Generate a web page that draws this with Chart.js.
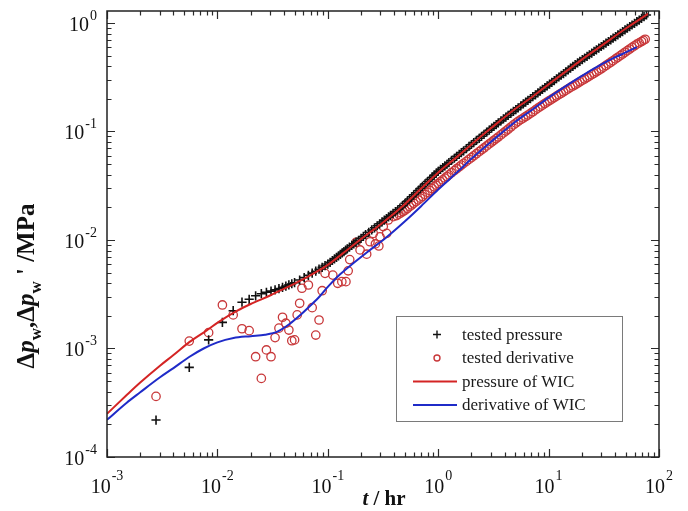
<!DOCTYPE html>
<html>
<head>
<meta charset="utf-8">
<script src="https://cdn.jsdelivr.net/npm/chart.js@4.4.1/dist/chart.umd.min.js"></script>
<style>
  body { margin: 0; background: #fff; }
  #wrap { width: 688px; height: 511px; position: relative; }
</style>
</head>
<body>
<div id="wrap"><canvas id="chart"></canvas></div>
<script>
// tested pressure (+), hr / MPa
const testedPressureTime = [0.00278, 0.00556, 0.00833, 0.0111, 0.0139, 0.0167, 0.0194, 0.0222, 0.025, 0.0278, 0.0306, 0.0333, 0.0361, 0.0389, 0.0417, 0.0444, 0.0472, 0.05,
  0.0556, 0.0611, 0.0667, 0.0722, 0.0778, 0.0833, 0.0889, 0.0944, 0.1,
  0.105, 0.11, 0.115, 0.12, 0.125, 0.13, 0.135, 0.14, 0.145, 0.15, 0.157, 0.165, 0.172, 0.18, 0.19, 0.2, 0.21, 0.22, 0.235, 0.25, 0.265, 0.28, 0.295, 0.31, 0.325, 0.34, 0.355, 0.37, 0.39, 0.41, 0.43, 0.45,
  0.475, 0.5, 0.525, 0.55, 0.575, 0.6, 0.63, 0.66, 0.69, 0.72, 0.76, 0.8, 0.84, 0.88, 0.92, 0.96, 1.0,
  1.05, 1.1, 1.15, 1.2, 1.25, 1.32, 1.4, 1.47, 1.55, 1.62, 1.7, 1.8, 1.9, 2.0, 2.1, 2.22, 2.35, 2.47, 2.6, 2.75, 2.9, 3.05, 3.2,
  3.35, 3.5, 3.7, 3.9, 4.1, 4.3, 4.55, 4.8, 5.05, 5.3, 5.6, 5.9, 6.2, 6.5, 6.85, 7.2, 7.6, 8.0, 8.4, 8.8, 9.25, 9.7, 10.2, 10.7, 11.25, 11.8, 12.4, 13, 13.65, 14.3, 15.05, 15.8,
  16.6, 17.4, 18.3, 19.2, 20.2, 21.2, 22.3, 23.4, 24.6, 25.8, 27.1, 28.5, 30, 31.5, 33.1, 34.8, 36.6, 38.4, 40.4, 42.4, 44.6, 46.8, 49.2, 51.7, 54.3, 57, 60, 63, 66.2, 69.5, 73.2, 77]
const testedPressure = [2.19e-4, 6.7e-4, 1.2e-3, 1.74e-3, 2.23e-3, 2.67e-3, 2.84e-3, 3.06e-3, 3.2e-3, 3.3e-3, 3.38e-3, 3.47e-3, 3.56e-3, 3.66e-3, 3.76e-3, 3.86e-3, 3.95e-3, 4.04e-3,
  4.28e-3, 4.5e-3, 4.73e-3, 4.95e-3, 5.16e-3, 5.38e-3, 5.6e-3, 5.8e-3, 6.0e-3,
  6.23e-3, 6.47e-3, 6.7e-3, 6.93e-3, 7.15e-3, 7.38e-3, 7.6e-3, 7.83e-3, 8.05e-3, 8.27e-3, 8.58e-3, 8.91e-3, 9.23e-3, 9.55e-3, 9.95e-3, 0.01037, 0.01078, 0.01119, 0.01178, 0.01238, 0.01295, 0.01353, 0.0141, 0.01466, 0.01522, 0.01578, 0.01632, 0.01686, 0.01756, 0.01829, 0.01898, 0.0197,
  0.0207, 0.0218, 0.0228, 0.0239, 0.025, 0.0261, 0.0273, 0.0286, 0.0299, 0.0312, 0.0329, 0.0346, 0.0362, 0.0379, 0.0396, 0.0413, 0.043,
  0.0448, 0.0465, 0.0482, 0.0499, 0.0516, 0.0541, 0.0567, 0.0591, 0.0616, 0.064, 0.0664, 0.0695, 0.0728, 0.0759, 0.079, 0.0827, 0.0866, 0.0903, 0.0941, 0.0985, 0.103, 0.1073, 0.1116,
  0.1158, 0.12, 0.1252, 0.1305, 0.1355, 0.1407, 0.1469, 0.1532, 0.1592, 0.1653, 0.1723, 0.1795, 0.1864, 0.1934, 0.2012, 0.2093, 0.218, 0.227, 0.2355, 0.2442, 0.2536, 0.2633, 0.2734, 0.2839, 0.2949, 0.3062, 0.3178, 0.3299, 0.3422, 0.355, 0.3689, 0.3833,
  0.398, 0.4136, 0.4283, 0.4434, 0.4593, 0.4756, 0.4925, 0.51, 0.528, 0.5466, 0.5662, 0.5865, 0.6076, 0.6295, 0.6522, 0.6756, 0.6996, 0.7244, 0.7503, 0.777, 0.8046, 0.8332, 0.8632, 0.8942, 0.9255, 0.958, 0.9923, 1.028, 1.0647, 1.102, 1.143, 1.185]

// tested derivative (o)
const testedDerivTime = [0.00278, 0.00556, 0.00833, 0.0111, 0.0139, 0.0167, 0.0194, 0.0222, 0.025, 0.0278, 0.0306, 0.0333, 0.0361, 0.0389, 0.0417, 0.0444, 0.0472, 0.05,
  0.0528, 0.0556, 0.0583, 0.0667, 0.0722, 0.0778, 0.0833, 0.0889, 0.0944,
  0.111, 0.123, 0.134, 0.146, 0.153, 0.158,
  0.18, 0.196, 0.225, 0.241, 0.258, 0.27, 0.29, 0.297, 0.318, 0.341, 0.353, 0.392,
  0.42, 0.44, 0.46, 0.48, 0.5, 0.525, 0.55, 0.575, 0.6, 0.63, 0.66, 0.69, 0.72, 0.76, 0.8, 0.84, 0.88, 0.92, 0.96, 1.0,
  1.05, 1.1, 1.15, 1.2, 1.25, 1.32, 1.4, 1.47, 1.55, 1.62, 1.7, 1.8, 1.9, 2.0, 2.1, 2.22, 2.35, 2.47, 2.6, 2.75, 2.9, 3.05, 3.2,
  3.35, 3.5, 3.7, 3.9, 4.1, 4.3, 4.55, 4.8, 5.05, 5.3, 5.6, 5.9, 6.2, 6.5, 6.85, 7.2, 7.6, 8, 8.4, 8.8, 9.25, 9.7, 10.2, 10.7, 11.25, 11.8, 12.4, 13, 13.65, 14.3, 15.05, 15.8,
  16.6, 17.4, 18.3, 19.2, 20.2, 21.2, 22.3, 23.4, 24.6, 25.8, 27.1, 28.5, 30, 31.5, 33.1, 34.8, 36.6, 38.4, 40.4, 42.4, 44.6, 46.8, 49.2, 51.7, 54.3, 57, 60, 63, 66.2, 69.5, 72.2, 75]
const testedDeriv = [3.62e-4, 1.17e-3, 1.40e-3, 2.52e-3, 2.04e-3, 1.52e-3, 1.46e-3, 8.4e-4, 5.3e-4, 9.7e-4, 8.4e-4, 1.26e-3, 1.54e-3, 1.94e-3, 1.71e-3, 1.48e-3, 1.18e-3, 1.2e-3,
  2.04e-3, 2.61e-3, 3.59e-3, 3.85e-3, 2.38e-3, 1.33e-3, 1.83e-3, 3.41e-3, 4.93e-3,
  4.75e-3, 3.99e-3, 4.13e-3, 4.13e-3, 5.2e-3, 6.6e-3,
  9.5e-3, 8.1e-3, 7.4e-3, 9.64e-3, 0.0115, 9.2e-3, 8.8e-3, 0.0107, 0.0133, 0.0115, 0.0153, 0.0164,
  0.0168, 0.0173, 0.0178, 0.0183, 0.0188, 0.0195, 0.0203, 0.021, 0.0218, 0.0226, 0.0234, 0.0243, 0.0252, 0.0263, 0.0275, 0.0286, 0.0298, 0.0309, 0.032, 0.0332,
  0.0345, 0.0358, 0.0372, 0.0385, 0.0398, 0.0417, 0.0436, 0.0454, 0.0472, 0.049, 0.0508, 0.053, 0.0553, 0.0575, 0.0598, 0.0624, 0.0652, 0.0678, 0.0705, 0.0736, 0.0768, 0.0799, 0.083,
  0.086, 0.089, 0.093, 0.097, 0.101, 0.105, 0.11, 0.115, 0.1195, 0.124, 0.1285, 0.133, 0.1375, 0.142, 0.147, 0.152, 0.158, 0.164, 0.1695, 0.175, 0.181, 0.187, 0.193, 0.199, 0.2055, 0.212, 0.2185, 0.225, 0.232, 0.239, 0.247, 0.255,
  0.2625, 0.27, 0.2785, 0.287, 0.296, 0.305, 0.3145, 0.324, 0.334, 0.344, 0.355, 0.366, 0.379, 0.392, 0.406, 0.42, 0.435, 0.45, 0.4665, 0.483, 0.5005, 0.518, 0.537, 0.556, 0.576, 0.596, 0.617, 0.638, 0.6565, 0.675, 0.6915, 0.708]

// WIC model curves
const wicTime = [0.001, 0.0015, 0.002, 0.003, 0.004, 0.0056, 0.008, 0.0102, 0.015, 0.02, 0.03, 0.04, 0.056, 0.07, 0.1, 0.15, 0.2, 0.3, 0.45, 0.7, 1, 1.5, 2, 3, 5, 7, 10, 15, 20, 30, 50, 80]
const wicPressure = [2.5e-4, 3.7e-4, 4.85e-4, 6.9e-4, 8.7e-4, 1.15e-3, 1.47e-3, 1.75e-3, 2.22e-3, 2.57e-3, 3.08e-3, 3.55e-3, 4.2e-3, 4.75e-3, 5.9e-3, 8.1e-3, 1.02e-2, 1.39e-2, 1.95e-2, 0.0298, 0.042, 0.059, 0.076, 0.107, 0.162, 0.206, 0.272, 0.37, 0.46, 0.615, 0.89, 1.22]
const wicDerivTime = [0.001, 0.0015, 0.002, 0.003, 0.004, 0.0055, 0.0075, 0.01, 0.014, 0.02, 0.027, 0.035, 0.045, 0.056, 0.07, 0.085, 0.1, 0.13, 0.17, 0.23, 0.34, 0.5, 0.7, 1, 1.5, 2, 3, 5, 7, 10, 15, 20, 30, 45, 63]
const wicDeriv = [2.2e-4, 3.15e-4, 3.95e-4, 5.4e-4, 6.6e-4, 8.3e-4, 1.0e-3, 1.14e-3, 1.25e-3, 1.3e-3, 1.34e-3, 1.43e-3, 1.68e-3, 2.02e-3, 2.5e-3, 3.05e-3, 3.7e-3, 4.85e-3, 6.1e-3, 7.8e-3, 0.0106, 0.0149, 0.0205, 0.0292, 0.0425, 0.056, 0.08, 0.123, 0.157, 0.205, 0.27, 0.325, 0.415, 0.51, 0.6]

// axes
const xDecades = [1e-3, 1e-2, 1e-1, 1, 10, 100]
const xTickExps = ["-3", "-2", "-1", "0", "1", "2"]
const yDecades = [1e-4, 1e-3, 1e-2, 1e-1, 1]
const yTickExps = ["-4", "-3", "-2", "-1", "0"]
const legendLabels = ["tested pressure", "tested derivative", "pressure of WIC", "derivative of WIC"]

const SERIF = "'Liberation Serif', 'Times New Roman', serif"
const RED = "#d42424"
const BLUE = "#1f2bc8"
const CIRCLE = "#c8383a"

const pts = (xs, ys) => xs.map((x, i) => ({ x: x, y: ys[i] }))

function drawRich(ctx, parts, size) {
  // parts drawn left to right, centred on 0, baseline 0
  const fontOf = p => `${p.italic ? "italic " : ""}bold ${p.sub ? Math.round(size * 0.68) : size}px ${SERIF}`
  const widths = parts.map(p => {
    ctx.font = fontOf(p)
    return ctx.measureText(p.text).width
  })
  const total = widths.reduce((a, b) => a + b, 0)
  let x = -total / 2
  parts.forEach((p, i) => {
    ctx.font = fontOf(p)
    ctx.fillText(p.text, x, p.sub ? size * 0.28 : 0)
    x += widths[i]
  })
}

const framePlugin = {
  id: "frame",
  beforeDraw(chart) {
    const ctx = chart.ctx
    ctx.save()
    ctx.fillStyle = "#fff"
    ctx.fillRect(0, 0, chart.width, chart.height)
    ctx.restore()
  },
  afterDraw(chart) {
    const { ctx, chartArea: a, scales: { x, y } } = chart
    ctx.save()
    ctx.strokeStyle = "#2a2a2a"
    ctx.lineWidth = 1.2

    // x ticks, bottom and top, pointing inward
    xDecades.forEach((d, i) => {
      for (let m = 1; m <= 9; m++) {
        if (i === xDecades.length - 1 && m > 1) break
        const px = Math.round(x.getPixelForValue(d * m)) + 0.5
        const len = m === 1 ? 8 : 4.5
        ctx.beginPath()
        ctx.moveTo(px, a.bottom); ctx.lineTo(px, a.bottom - len)
        ctx.moveTo(px, a.top); ctx.lineTo(px, a.top + len)
        ctx.stroke()
      }
    })
    // y ticks, left and right
    yDecades.forEach(d => {
      for (let m = 1; m <= 9; m++) {
        const v = d * m
        if (v > y.max) break
        const py = Math.round(y.getPixelForValue(v)) + 0.5
        const len = m === 1 ? 8 : 4.5
        ctx.beginPath()
        ctx.moveTo(a.left, py); ctx.lineTo(a.left + len, py)
        ctx.moveTo(a.right, py); ctx.lineTo(a.right - len, py)
        ctx.stroke()
      }
    })

    // frame
    ctx.lineWidth = 1.5
    ctx.strokeStyle = "#222"
    ctx.strokeRect(a.left, a.top, a.right - a.left, a.bottom - a.top)

    // tick labels 10^n
    ctx.fillStyle = "#111"
    ctx.textBaseline = "alphabetic"
    ctx.textAlign = "left"
    const big = `20px ${SERIF}`, small = `14px ${SERIF}`
    xDecades.forEach((d, i) => {
      const px = x.getPixelForValue(d)
      ctx.font = big
      const w10 = ctx.measureText("10").width
      ctx.font = small
      const we = ctx.measureText(xTickExps[i]).width
      const x0 = px - (w10 + 1 + we) / 2
      ctx.font = big
      ctx.fillText("10", x0, 493)
      ctx.font = small
      ctx.fillText(xTickExps[i], x0 + w10 + 1, 480)
    })
    yDecades.forEach((d, i) => {
      const py = y.getPixelForValue(d)
      ctx.font = small
      const we = ctx.measureText(yTickExps[i]).width
      ctx.font = big
      const w10 = ctx.measureText("10").width
      const x0 = 97 - we - 1 - w10
      ctx.fillText("10", x0, py + 8)
      ctx.font = small
      ctx.fillText(yTickExps[i], x0 + w10 + 1, py - 3)
    })

    // axis titles
    ctx.save()
    ctx.translate(384, 505)
    drawRich(ctx, [{ text: "t", italic: true }, { text: " / hr" }], 21)
    ctx.restore()

    ctx.save()
    ctx.translate(34, 286)
    ctx.rotate(-Math.PI / 2)
    drawRich(ctx, [
      { text: "Δ" }, { text: "p", italic: true }, { text: "w", sub: true }, { text: "," },
      { text: "Δ" }, { text: "p", italic: true }, { text: "w", sub: true }, { text: " ' /MPa" }
    ], 25)
    ctx.restore()

    // legend box
    const lx = 396, ly = 316, lw = 226, lh = 105
    ctx.fillStyle = "#fff"
    ctx.fillRect(lx, ly, lw, lh)
    ctx.strokeStyle = "#7a7a7a"
    ctx.lineWidth = 1
    ctx.strokeRect(lx + 0.5, ly + 0.5, lw, lh)
    const rows = [334.5, 358, 381.5, 405]
    ctx.font = `17px ${SERIF}`
    ctx.fillStyle = "#1a1a1a"
    ctx.textBaseline = "middle"
    legendLabels.forEach((lab, i) => ctx.fillText(lab, 462, rows[i] + 1))
    // legend markers
    ctx.strokeStyle = "#111"
    ctx.lineWidth = 1.4
    ctx.beginPath()
    ctx.moveTo(433, rows[0]); ctx.lineTo(441, rows[0])
    ctx.moveTo(437, rows[0] - 4); ctx.lineTo(437, rows[0] + 4)
    ctx.stroke()
    ctx.strokeStyle = CIRCLE
    ctx.beginPath()
    ctx.arc(437, rows[1], 3, 0, Math.PI * 2)
    ctx.stroke()
    ctx.lineWidth = 2
    ctx.strokeStyle = RED
    ctx.beginPath(); ctx.moveTo(413, rows[2]); ctx.lineTo(457, rows[2]); ctx.stroke()
    ctx.strokeStyle = BLUE
    ctx.beginPath(); ctx.moveTo(413, rows[3]); ctx.lineTo(457, rows[3]); ctx.stroke()
    ctx.restore()
  }
}

new Chart(document.getElementById("chart"), {
  type: "scatter",
  data: {
    datasets: [
      {
        label: "derivative of WIC",
        data: pts(wicDerivTime, wicDeriv),
        showLine: true,
        borderColor: BLUE,
        borderWidth: 2,
        pointRadius: 0,
        cubicInterpolationMode: "monotone",
        order: 0
      },
      {
        label: "pressure of WIC",
        data: pts(wicTime, wicPressure),
        showLine: true,
        borderColor: RED,
        borderWidth: 2,
        pointRadius: 0,
        cubicInterpolationMode: "monotone",
        order: 1
      },
      {
        label: "tested pressure",
        data: pts(testedPressureTime, testedPressure),
        pointStyle: "cross",
        pointRadius: 4.6,
        borderColor: "#111",
        borderWidth: 1.6,
        order: 2
      },
      {
        label: "tested derivative",
        data: pts(testedDerivTime, testedDeriv),
        pointStyle: "circle",
        pointRadius: 4.2,
        borderColor: CIRCLE,
        backgroundColor: "rgba(0,0,0,0)",
        borderWidth: 1.3,
        order: 3
      }
    ]
  },
  options: {
    responsive: true,
    maintainAspectRatio: false,
    animation: false,
    events: [],
    layout: { padding: { left: 107, right: 29, top: 11, bottom: 54 } },
    plugins: {
      legend: { display: false },
      tooltip: { enabled: false }
    },
    scales: {
      x: { type: "logarithmic", min: 1e-3, max: 100, display: false },
      y: { type: "logarithmic", min: 1e-4, max: 1.29, display: false }
    }
  },
  plugins: [framePlugin]
})
</script>
</body>
</html>
